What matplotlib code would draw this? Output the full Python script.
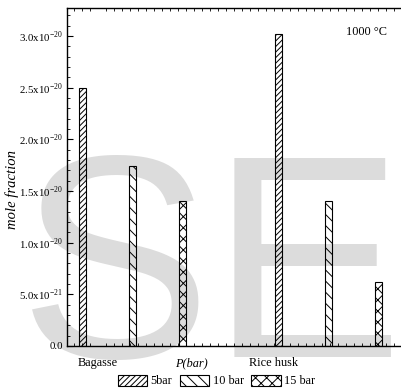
import numpy as np
import matplotlib
matplotlib.use("Agg")
import matplotlib.pyplot as plt
from matplotlib.ticker import MultipleLocator, FixedLocator, FuncFormatter
from matplotlib.patches import Patch

plt.rcParams['font.family'] = ['Liberation Serif', 'DejaVu Serif']
plt.rcParams['mathtext.fontset'] = 'stix'
plt.rcParams['hatch.linewidth'] = 0.7

# mole fraction of product at 1000 C, grouped by feedstock
feedstocks = ['Bagasse', 'Rice husk']
pressures = ['5bar', '10 bar', '15 bar']
bagasse = [2.50e-20, 1.74e-20, 1.40e-20]
rice_husk = [3.02e-20, 1.40e-20, 0.62e-20]
hatches = ['//////', '\\\\\\', 'xxx']

group_x = np.array([1.0, 2.0])
offsets = [-0.256, 0.0, 0.256]
bar_w = 0.036

fig = plt.figure(figsize=(4.01, 3.90), dpi=100)
ax = fig.add_axes([0.167, 0.113, 0.846, 0.866])
ax.set_facecolor('none')

# big grey letters sitting behind the plot
fig.text(0.047, 0.085, 'SE', fontsize=208, color='#dcdcdc',
         family='Liberation Sans', va='baseline', ha='left', zorder=-5)

for i, (h, p) in enumerate(zip(hatches, pressures)):
    vals = [bagasse[i], rice_husk[i]]
    ax.bar(group_x + offsets[i], vals, width=bar_w, facecolor='none',
           edgecolor='black', linewidth=0.8, hatch=h, label=p)

ax.set_xlim(0.662, 2.40)
ax.set_ylim(0, 3.27e-20)

ax.spines['right'].set_visible(False)
for s in ['left', 'top', 'bottom']:
    ax.spines[s].set_linewidth(1.0)

def fmt(v, pos):
    if v <= 1e-30:
        return '0.0'
    exp = int(np.floor(np.log10(v) + 1e-9))
    mant = v / 10 ** exp
    return r'%.1fx10$^{\mathregular{%d}}$' % (mant, exp)

ax.yaxis.set_major_locator(MultipleLocator(0.5e-20))
ax.yaxis.set_minor_locator(MultipleLocator(0.1e-20))
ax.yaxis.set_major_formatter(FuncFormatter(fmt))
ax.tick_params(axis='y', which='major', direction='in', length=4, labelsize=7.8, pad=3)
ax.tick_params(axis='y', which='minor', direction='in', length=2.2)

ax.xaxis.set_major_locator(FixedLocator([0.82, 1.30, 1.72]))
ax.set_xticklabels(['Bagasse', 'P(bar)', 'Rice husk'])
ax.get_xticklabels()[1].set_style('italic')
ax.xaxis.set_minor_locator(MultipleLocator(0.041))
ax.tick_params(axis='x', which='major', length=0, labelsize=8.8, pad=8)
ax.tick_params(axis='x', which='minor', direction='in', length=2.2,
               top=True, bottom=True)

ax.text(0.944, 0.93, '1000 \u00b0C', transform=ax.transAxes, fontsize=8.8,
        ha='right', va='center')

fig.text(0.030, 0.513, 'mole fraction', rotation=90, style='italic',
         fontsize=10.5, ha='center', va='center')

handles = [Patch(facecolor='none', edgecolor='black', linewidth=0.8, hatch=h)
           for h in hatches]
fig.legend(handles, pressures, loc='center', bbox_to_anchor=(0.54, 0.023),
           ncol=3, frameon=False, fontsize=8.8, handlelength=2.4,
           handleheight=1.0, handletextpad=0.3, columnspacing=0.6,
           borderpad=0.0)

fig.savefig('out.png', dpi=100)
